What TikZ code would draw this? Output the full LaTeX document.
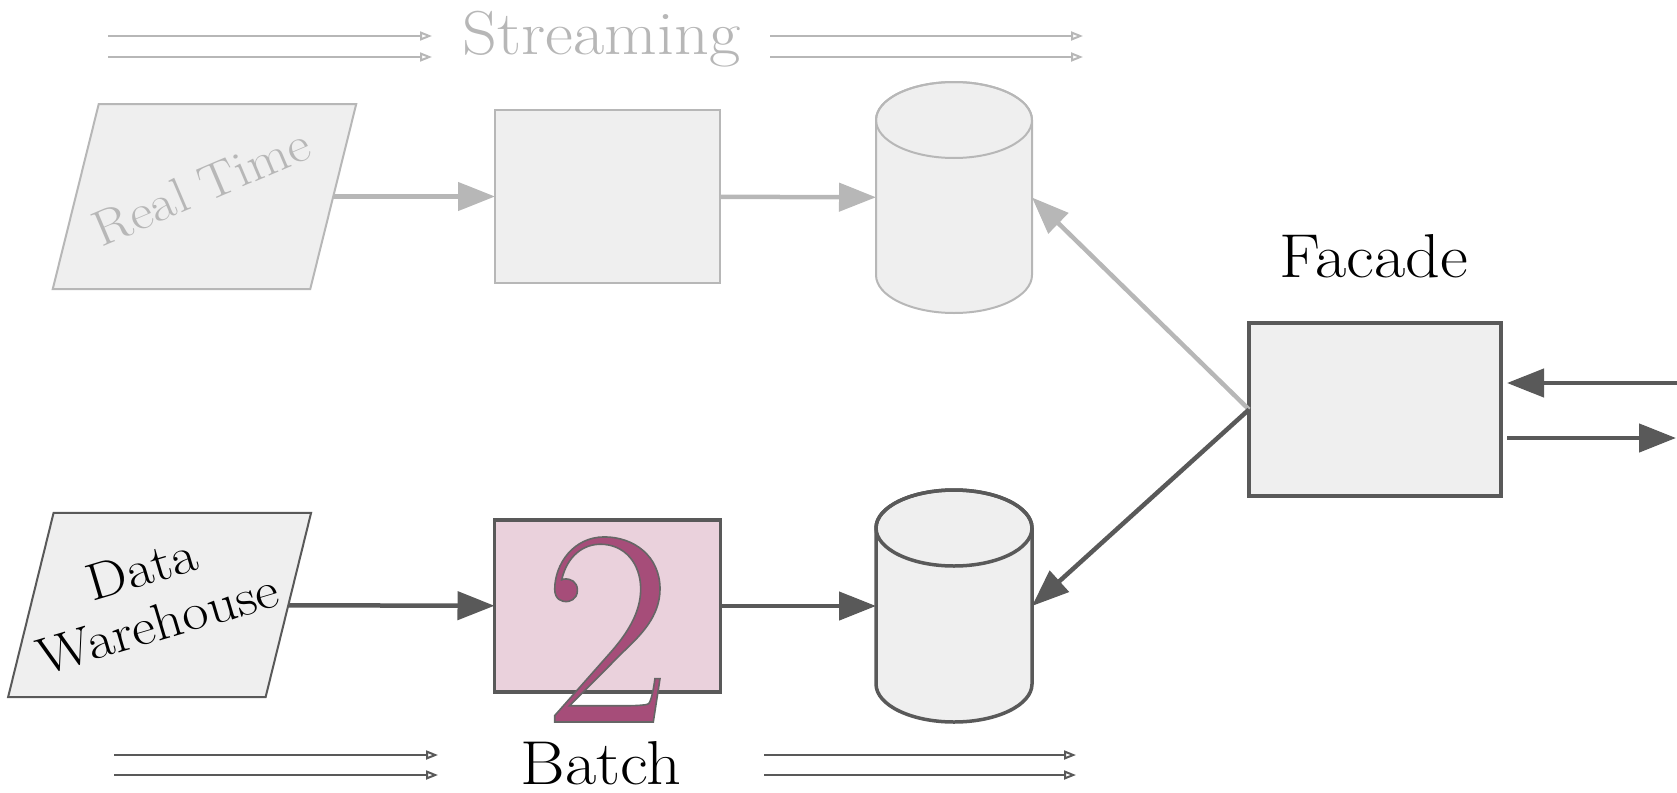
\documentclass[tikz,border=0pt]{standalone}
\usepackage{fontspec}
\setmainfont{Latin Modern Roman}
\newfontfamily\widefont[FakeStretch=1.1]{Latin Modern Roman}
\usetikzlibrary{arrows.meta}
\definecolor{lg}{HTML}{B7B7B7}
\definecolor{dg}{HTML}{595959}
\definecolor{sfill}{HTML}{EFEFEF}
\definecolor{bfill}{HTML}{EAD1DC}
\definecolor{digit}{HTML}{A64D79}
\newcommand\strokedglyphs[1]{\special{pdf:literal direct 2 Tr 1.6 w 0.4 0.4 0.4 RG}#1\special{pdf:literal direct 0 Tr}}
\newcommand\drawcyl[3]{%
  \filldraw[fill=sfill, draw=#2, line width=#3]
    ([yshift=-38pt]#1.north west) -- ([yshift=38pt]#1.south west)
    arc[start angle=180, end angle=360, x radius=78pt, y radius=38pt]
    -- ([yshift=-38pt]#1.north east)
    arc[start angle=0, end angle=180, x radius=78pt, y radius=38pt] -- cycle;
  \draw[draw=#2, line width=#3] ([yshift=-38pt]#1.north) ellipse[x radius=78pt, y radius=38pt];
}
\newcommand\drawpara[3]{% node, colour, half skew
  \filldraw[fill=sfill, draw=#2, line width=2pt, line join=miter]
    ([xshift=#3]#1.north west) -- ([xshift=#3]#1.north east)
    -- ([xshift=-#3]#1.south east) -- ([xshift=-#3]#1.south west) -- cycle;
}
\tikzset{
  slot/.style={rectangle, inner sep=0pt, outer sep=0pt},
  boxshape/.style={rectangle, fill=sfill, inner sep=0pt, outer sep=0pt},
  lightbox/.style={boxshape, draw=lg, line width=2pt},
  darkbox/.style={boxshape, draw=dg, line width=3.5pt},
  cylslot/.style={slot, minimum width=156pt, minimum height=231pt},
  flowL/.style={draw=lg, line width=4.5pt, -{Triangle[length=37pt,width=28pt]}},
  flowD/.style={draw=dg, line width=4.5pt, -{Triangle[length=37pt,width=28pt]}},
  thinL/.style={draw=lg, line width=2pt, -{Triangle[open,length=12pt,width=9pt]}},
  thinD/.style={draw=dg, line width=2pt, -{Triangle[open,length=12pt,width=9pt]}},
  bigtext/.style={font=\widefont\fontsize{62}{64}\selectfont, inner sep=0pt, anchor=base},
}
\begin{document}
\begin{tikzpicture}[x=1pt,y=-1pt]
\useasboundingbox (0,0) rectangle (1677,792);

% streaming header
\node[bigtext, text=lg] (streaming) at (601.5,55) {Streaming};
\draw[thinL] (108,36) -- (432,36);
\draw[thinL] (108,57) -- (432,57);
\draw[thinL] (770,36) -- (1083,36);
\draw[thinL] (770,57) -- (1083,57);

% streaming row
\node[slot, minimum width=257.5pt, minimum height=185pt] (rt) at (204.5,196.5) {};
\drawpara{rt}{lg}{23pt}
\node[font=\widefont\fontsize{50}{50}\selectfont, text=lg, rotate=23, anchor=base, inner sep=0pt] (rttext) at (208,202) {Real Time};
\node[lightbox, minimum width=225pt, minimum height=173pt] (sbox) at (607.5,196.5) {};
\node[cylslot] (cyl1) at (954,197.5) {};
\drawcyl{cyl1}{lg}{2pt}

% batch row
\node[slot, minimum width=257.5pt, minimum height=184.4pt] (dw) at (159.6,605) {};
\drawpara{dw}{dg}{22.75pt}
\node[font=\widefont\fontsize{52}{57}\selectfont, align=center, rotate=16.5, inner sep=0pt] (dwtext) at (150,596) {Data\\Warehouse};
\node[darkbox, fill=bfill, minimum width=226pt, minimum height=172pt] (bbox) at (607.5,606) {};
\node[cylslot, minimum height=232pt] (cyl2) at (954,606) {};
\drawcyl{cyl2}{dg}{3.5pt}

% facade
\node[darkbox, minimum width=252pt, minimum height=173pt] (fac) at (1375,409.5) {};
\node[bigtext] (factext) at (1374,277) {Facade};
\coordinate (inR) at (1677,383);
\coordinate (outR) at (1676,438);

% connectors
\draw[flowL] (rt) -- (sbox);
\draw[flowL] (sbox) -- (cyl1);
\draw[flowL] (fac.west) -- (cyl1.east);
\draw[flowD] (fac.west) -- (cyl2.east);
\draw[flowD] (dw) -- (bbox);
\draw[flowD] (bbox) -- (cyl2);
\draw[flowD] (inR) -- ([xshift=6pt,yshift=26.5pt]fac.east);
\draw[flowD] ([xshift=6pt,yshift=-28.5pt]fac.east) -- (outR);

% big digit and batch label
\node[font=\fontsize{280}{280}\selectfont, text=digit, anchor=base, inner sep=0pt] (two) at (607.5,722) {\strokedglyphs{2}};
\node[bigtext] (batch) at (601,784) {Batch};
\draw[thinD] (114,755) -- (438,755);
\draw[thinD] (114,775) -- (438,775);
\draw[thinD] (764,755) -- (1076,755);
\draw[thinD] (764,775) -- (1076,775);
\end{tikzpicture}
\end{document}
